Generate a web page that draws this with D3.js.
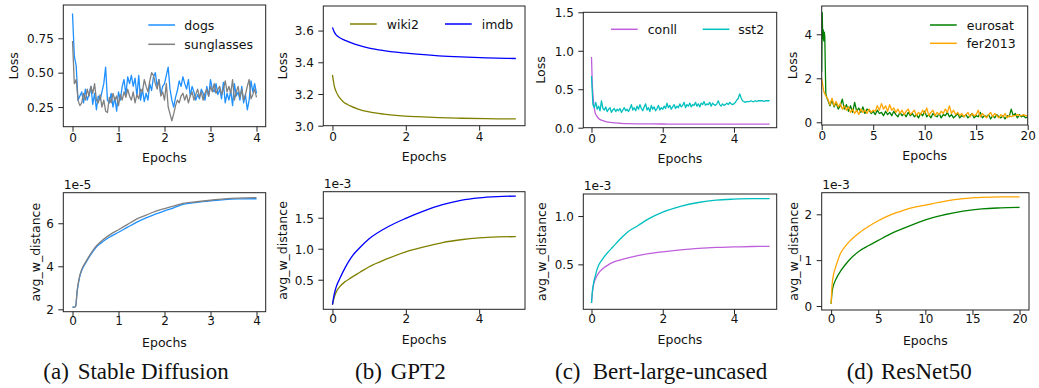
<!DOCTYPE html>
<html><head><meta charset="utf-8">
<script src="https://cdn.jsdelivr.net/npm/d3@7"></script>
<style>
body{margin:0;background:#fff}
svg{display:block}
text{font-family:"DejaVu Sans",sans-serif;fill:#111}
text.cap{font-family:"Liberation Serif","Times New Roman",serif}
</style>
</head><body>
<svg id="c" width="1039" height="388"></svg>
<script>
// ---------------- DATA ----------------
// (a) Stable Diffusion – loss, sampled every 0.04 epoch
const sdStep = 0.04;
const dogsLoss = [0.93,0.62,0.55,0.30,0.33,0.36,0.28,0.38,0.30,0.34,
0.40,0.27,0.35,0.23,0.33,0.30,0.36,0.42,0.54,0.30,
0.28,0.35,0.25,0.32,0.22,0.36,0.30,0.40,0.45,0.34,
0.47,0.42,0.48,0.40,0.46,0.33,0.48,0.30,0.38,0.29,
0.35,0.30,0.42,0.37,0.47,0.50,0.40,0.45,0.34,0.40,
0.42,0.48,0.54,0.38,0.30,0.25,0.32,0.37,0.44,0.40,
0.47,0.42,0.38,0.45,0.33,0.40,0.36,0.30,0.34,0.31,
0.38,0.35,0.30,0.40,0.33,0.45,0.38,0.36,0.42,0.34,
0.38,0.31,0.43,0.28,0.35,0.30,0.37,0.26,0.42,0.33,
0.36,0.30,0.40,0.28,0.34,0.23,0.30,0.44,0.36,0.42,0.35];
const sunglassesLoss = [0.73,0.42,0.45,0.30,0.26,0.28,0.35,0.30,0.38,0.33,
0.40,0.35,0.42,0.30,0.28,0.34,0.25,0.30,0.22,0.21,
0.32,0.28,0.35,0.30,0.33,0.26,0.34,0.30,0.36,0.32,
0.38,0.33,0.30,0.36,0.28,0.34,0.31,0.38,0.36,0.45,
0.40,0.36,0.44,0.50,0.48,0.42,0.38,0.45,0.33,0.36,
0.30,0.42,0.25,0.20,0.15,0.20,0.26,0.30,0.28,0.33,
0.35,0.30,0.34,0.28,0.33,0.36,0.30,0.34,0.38,0.32,
0.36,0.30,0.35,0.38,0.33,0.40,0.36,0.42,0.35,0.38,
0.40,0.34,0.38,0.44,0.36,0.40,0.35,0.45,0.30,0.36,
0.40,0.32,0.38,0.30,0.34,0.40,0.45,0.31,0.34,0.38,0.32];
// (a) avg_w_distance (x1e-5)
const sdDistEpochs = [0,0.05,0.07,0.1,0.15,0.2,0.3,0.4,0.5,0.6,0.8,1.0,1.2,1.4,1.6,1.8,2.0,2.2,2.4,2.7,3.0,3.3,3.6,4.0];
const dogsDist = [2.1,2.1,2.15,2.8,3.45,3.8,4.2,4.55,4.85,5.05,5.35,5.58,5.82,6.05,6.25,6.42,6.58,6.72,6.88,6.97,7.04,7.1,7.13,7.14];
const sunglassesDist = [2.1,2.1,2.15,2.85,3.5,3.85,4.25,4.6,4.9,5.12,5.45,5.7,5.95,6.2,6.38,6.55,6.68,6.8,6.92,7.0,7.07,7.13,7.17,7.19];

// (b) GPT2
const gptLossEpochs = [0,0.05,0.1,0.2,0.3,0.4,0.5,0.7,1.0,1.4,1.8,2.3,2.9,3.5,4.2,5.0];
const wiki2Loss = [3.32,3.25,3.215,3.175,3.15,3.135,3.123,3.105,3.087,3.073,3.064,3.057,3.051,3.047,3.044,3.043];
const imdbLoss = [3.62,3.59,3.573,3.555,3.543,3.533,3.524,3.508,3.49,3.474,3.462,3.451,3.441,3.434,3.428,3.424];
const gptDistEpochs = [0,0.05,0.1,0.2,0.35,0.5,0.75,1,1.5,2,2.5,3,3.5,4,4.5,5];
const wiki2Dist = [0.1,0.22,0.3,0.39,0.47,0.53,0.62,0.71,0.84,0.95,1.03,1.1,1.145,1.175,1.19,1.195]; // x1e-3
const imdbDist = [0.1,0.27,0.38,0.52,0.7,0.85,1.02,1.16,1.35,1.49,1.61,1.71,1.78,1.82,1.84,1.85];  // x1e-3

// (c) Bert-large-uncased
const conllLossEpochs = [0,0.02,0.05,0.08,0.1,0.15,0.2,0.3,0.4,0.6,0.8,1,1.5,2,3,4,5];
const conllLoss = [0.92,0.6,0.38,0.25,0.2,0.15,0.12,0.095,0.08,0.065,0.058,0.053,0.05,0.048,0.047,0.046,0.046];
const sst2Step = 0.04;
const sst2Loss = [0.67,0.30,0.26,0.33,0.24,0.28,0.22,0.35,0.25,0.23,
0.27,0.21,0.24,0.26,0.20,0.23,0.25,0.21,0.24,0.22,
0.25,0.20,0.23,0.26,0.22,0.24,0.21,0.25,0.30,0.23,
0.26,0.22,0.28,0.24,0.30,0.25,0.22,0.27,0.31,0.23,
0.26,0.21,0.29,0.24,0.27,0.22,0.25,0.29,0.23,0.26,
0.24,0.28,0.25,0.32,0.26,0.29,0.24,0.27,0.30,0.25,
0.28,0.26,0.31,0.27,0.29,0.33,0.26,0.30,0.28,0.32,
0.27,0.30,0.29,0.33,0.28,0.31,0.27,0.32,0.30,0.34,
0.29,0.31,0.30,0.33,0.28,0.32,0.30,0.29,0.31,0.35,
0.30,0.28,0.31,0.29,0.30,0.32,0.30,0.33,0.31,0.30,
0.31,0.33,0.36,0.38,0.44,0.39,0.35,0.34,0.33,0.34,
0.34,0.34,0.35,0.34,0.34,0.35,0.34,0.35,0.35,0.35,
0.35,0.34,0.35,0.35,0.35,0.35];
const bertDistEpochs = [0,0.03,0.06,0.1,0.15,0.2,0.3,0.45,0.6,0.8,1.0,1.3,1.6,2.0,2.5,3.0,3.5,4.0,4.5,5.0];
const conllDist = [0.1,0.22,0.29,0.34,0.38,0.41,0.45,0.49,0.52,0.545,0.565,0.59,0.61,0.63,0.65,0.665,0.675,0.68,0.685,0.687]; // x1e-3
const sst2Dist = [0.1,0.24,0.31,0.37,0.44,0.49,0.55,0.62,0.68,0.76,0.83,0.9,0.97,1.04,1.1,1.14,1.165,1.175,1.18,1.18];     // x1e-3

// (d) ResNet50
const eurosatHeadEpochs = [0,0.05,0.1,0.15,0.2,0.25,0.3,0.35,0.4,0.5];
const eurosatHeadLoss = [2.3,4.98,3.8,4.2,3.7,4.1,3.9,2.5,1.3,1.1];
const resStep = 0.2;
const eurosatTailStart = 0.6;
const eurosatTailLoss = [1.0,0.75,1.0,0.7,0.9,0.6,0.75,1.05,0.6,0.8,
0.5,0.75,0.45,0.9,0.5,0.65,0.45,0.7,0.4,0.6,
0.55,0.4,0.5,0.35,0.55,0.4,0.45,0.3,0.5,0.35,
0.45,0.3,0.5,0.35,0.25,0.45,0.3,0.4,0.25,0.45,
0.3,0.4,0.25,0.35,0.2,0.4,0.3,0.5,0.25,0.35,
0.2,0.4,0.3,0.25,0.4,0.2,0.35,0.3,0.45,0.25,
0.35,0.2,0.3,0.4,0.2,0.3,0.25,0.35,0.2,0.3,
0.4,0.2,0.3,0.25,0.45,0.2,0.3,0.25,0.35,0.15,
0.3,0.2,0.35,0.25,0.2,0.3,0.15,0.3,0.25,0.6,
0.3,0.4,0.2,0.35,0.25,0.3,0.2,0.25];
const fer2013Loss = [2.0,1.4,1.2,1.05,0.8,1.1,0.75,0.95,0.7,0.85,
0.6,0.75,0.55,0.7,0.45,0.6,0.4,0.55,0.35,0.6,
0.45,0.55,0.4,0.6,0.45,0.55,0.5,0.75,0.55,0.85,
0.6,0.75,0.5,0.8,0.55,0.65,0.45,0.6,0.4,0.55,
0.35,0.5,0.6,0.35,0.45,0.55,0.3,0.45,0.35,0.55,
0.4,0.65,0.3,0.45,0.55,0.3,0.45,0.35,0.5,0.4,
0.6,0.45,0.75,0.4,0.55,0.35,0.45,0.3,0.4,0.25,
0.35,0.45,0.25,0.4,0.3,0.35,0.55,0.25,0.4,0.3,
0.2,0.35,0.45,0.25,0.4,0.3,0.2,0.35,0.25,0.4,
0.2,0.3,0.25,0.3,0.3,0.35,0.3,0.3,0.35,0.3,0.3];
const resDistEpochs = [0,0.1,0.25,0.5,1,1.5,2,3,4,5,6,7,8,9,10,12,14,16,18,20];
const fer2013Dist = [0.05,0.45,0.68,0.86,1.15,1.3,1.42,1.6,1.74,1.86,1.96,2.04,2.11,2.16,2.2,2.28,2.34,2.37,2.38,2.38]; // x1e-3
const eurosatDist = [0.05,0.3,0.45,0.58,0.76,0.9,1.02,1.2,1.32,1.43,1.54,1.64,1.72,1.8,1.88,1.99,2.07,2.12,2.14,2.15];   // x1e-3

// tick labels
const ticks4 = [0,1,2,3,4], ticks5 = [0,2,4], ticks20 = [0,5,10,15,20];
const captionTags = ["(a)","(b)","(c)","(d)"];
const captionNames = ["Stable Diffusion","GPT2","Bert-large-uncased","ResNet50"];

// ---------------- DRAW ----------------
const C = {dogs:"#1e90ff", sunglasses:"#808080", wiki2:"#808000", imdb:"#0000ff",
           conll:"#bf5fdb", sst2:"#00bfbf", eurosat:"#008000", fer2013:"#ffa500"};
const byStep = (arr, step, start=0) => arr.map((v,i)=>[start+i*step, v]);
const zip = (xs, ys) => xs.map((x,i)=>[x, ys[i]]);

const svg = d3.select("#c");
const defs = svg.append("defs");
const f1 = d => d3.format(".1f")(d), f2 = d => d3.format(".2f")(d), f0 = d => d3.format("d")(d);

const panels = [
 {box:[63.3,5,265.7,126.7], xd:[-0.2,4.2], yd:[0.107,0.992], xt:ticks4, yt:[0.25,0.5,0.75], yf:f2, xf:f0, row:0, yl:"Loss", ylo:45,
  series:[{d:byStep(dogsLoss,sdStep),c:C.dogs,n:"dogs"},{d:byStep(sunglassesLoss,sdStep),c:C.sunglasses,n:"sunglasses"}],
  legend:{type:"v", hx:148.3, tx:184.3, ys:[25,44.3]}},
 {box:[323.3,6,525,125.7], xd:[-0.25,5.25], yd:[3.0,3.755], xt:ticks5, yt:[3.0,3.2,3.4,3.6], yf:f1, xf:f0, row:0, yl:"Loss", ylo:36.6, smooth:true,
  series:[{d:zip(gptLossEpochs,wiki2Loss),c:C.wiki2,n:"wiki2"},{d:zip(gptLossEpochs,imdbLoss),c:C.imdb,n:"imdb"}],
  legend:{type:"h", items:[[350,386.7],[445,481.7]], y:24}},
 {box:[583.3,12.3,776.7,127.7], xd:[-0.23,5.2], yd:[0,1.5], xt:ticks5, yt:[0,0.5,1.0,1.5], yf:f1, xf:f0, row:0, yl:"Loss", ylo:38.3,
  series:[{d:zip(conllLossEpochs,conllLoss),c:C.conll,n:"conll",smooth:true},{d:byStep(sst2Loss,sst2Step),c:C.sst2,n:"sst2"}],
  legend:{type:"h", items:[[611,647.7],[702.7,738.3]], y:29.3}},
 {box:[821.7,6,1027.7,125], xd:[0,20], yd:[-0.123,5.286], xt:ticks20, yt:[0,2,4], yf:f0, xf:f0, row:0, yl:"Loss", ylo:25,
  series:[{d:zip(eurosatHeadEpochs,eurosatHeadLoss).concat(byStep(eurosatTailLoss,resStep,eurosatTailStart)),c:C.eurosat,n:"eurosat"},
          {d:byStep(fer2013Loss,resStep),c:C.fer2013,n:"fer2013"}],
  legend:{type:"v", hx:930, tx:966.7, ys:[25,43.3]}},

 {box:[63.3,192.7,265.7,311.7], xd:[-0.2,4.2], yd:[1.89,7.42], xt:ticks4, yt:[2,4,6], yf:f0, xf:f0, row:1, yl:"avg_w_distance", ylo:23.3, exp:"1e-5", smooth:true,
  series:[{d:zip(sdDistEpochs,dogsDist),c:C.dogs},{d:zip(sdDistEpochs,sunglassesDist),c:C.sunglasses}]},
 {box:[323.3,191.7,525,309.3], xd:[-0.25,5.25], yd:[0.023,1.92], xt:ticks5, yt:[0.5,1.0,1.5], yf:f1, xf:f0, row:1, yl:"avg_w_distance", ylo:36.8, exp:"1e-3", smooth:true,
  series:[{d:zip(gptDistEpochs,wiki2Dist),c:C.wiki2},{d:zip(gptDistEpochs,imdbDist),c:C.imdb}]},
 {box:[583.3,194,776.7,309.3], xd:[-0.23,5.2], yd:[0.035,1.228], xt:ticks5, yt:[0.5,1.0], yf:f1, xf:f0, row:1, yl:"avg_w_distance", ylo:37.3, exp:"1e-3", smooth:true,
  series:[{d:zip(bertDistEpochs,conllDist),c:C.conll},{d:zip(bertDistEpochs,sst2Dist),c:C.sst2}]},
 {box:[821.7,192.7,1029,310], xd:[-1,21], yd:[-0.087,2.471], xt:ticks20, yt:[0,1,2], yf:f0, xf:f0, row:1, yl:"avg_w_distance", ylo:24.2, exp:"1e-3", smooth:true,
  series:[{d:zip(resDistEpochs,eurosatDist),c:C.eurosat},{d:zip(resDistEpochs,fer2013Dist),c:C.fer2013}]}
];

panels.forEach((p,k)=>{
  const [L,T,R,B] = p.box;
  const x = d3.scaleLinear().domain(p.xd).range([L,R]);
  const y = d3.scaleLinear().domain(p.yd).range([B,T]);
  const g = svg.append("g");
  const cid = "clip"+k;
  defs.append("clipPath").attr("id",cid).append("rect").attr("x",L).attr("y",T).attr("width",R-L).attr("height",B-T);

  // lines
  p.series.forEach(s=>{
    const sm = s.smooth!==undefined ? s.smooth : p.smooth;
    const line = d3.line().x(d=>x(d[0])).y(d=>y(d[1])).curve(sm?d3.curveMonotoneX:d3.curveLinear);
    g.append("path").attr("d",line(s.d)).attr("fill","none").attr("stroke",s.c)
     .attr("stroke-width",1.3).attr("stroke-linejoin","round").attr("clip-path",`url(#${cid})`);
  });

  // axes
  const xa = g.append("g").attr("transform",`translate(0,${B})`)
    .call(d3.axisBottom(x).tickValues(p.xt).tickFormat(p.xf).tickSize(5).tickSizeOuter(0));
  xa.select(".domain").remove();
  xa.selectAll("line").attr("stroke","#222").attr("stroke-width",1);
  xa.selectAll("text").attr("y", p.row===0?15:13.3).attr("dy",null).style("font-size","12px").attr("fill","#111");

  const ya = g.append("g").attr("transform",`translate(${L},0)`)
    .call(d3.axisLeft(y).tickValues(p.yt).tickFormat(p.yf).tickSize(5).tickSizeOuter(0));
  ya.select(".domain").remove();
  ya.selectAll("line").attr("stroke","#222").attr("stroke-width",1);
  ya.selectAll("text").attr("x",-9.5).attr("dy","0.36em").style("font-size","12px").attr("fill","#111");

  // frame
  g.append("rect").attr("x",L).attr("y",T).attr("width",R-L).attr("height",B-T)
   .attr("fill","none").attr("stroke","#222").attr("stroke-width",1);

  // labels
  g.append("text").attr("x",(L+R)/2).attr("y",B+35).attr("text-anchor","middle")
   .style("font-size","12.5px").text("Epochs");
  g.append("text").attr("transform",`translate(${L-p.ylo},${(T+B)/2}) rotate(-90)`)
   .attr("text-anchor","middle").style("font-size","12.5px").text(p.yl);
  if(p.exp){
    g.append("text").attr("x",L+0.5).attr("y",T-4).style("font-size","12.3px").text(p.exp);
  }

  // legend
  if(p.legend){
    const lg = p.legend;
    p.series.forEach((s,i)=>{
      let hx, tx, yy;
      if(lg.type==="v"){ hx=lg.hx; tx=lg.tx; yy=lg.ys[i]; }
      else { hx=lg.items[i][0]; tx=lg.items[i][1]; yy=lg.y; }
      g.append("line").attr("x1",hx).attr("x2",hx+26.7).attr("y1",yy).attr("y2",yy)
       .attr("stroke",s.c).attr("stroke-width",1.5);
      g.append("text").attr("x",tx).attr("y",yy+4.6).style("font-size","12.5px").text(s.n);
    });
  }
});

// captions
const capTagX = [43.3,355,555,846.7];
const capNameX = [77.7,390.7,592.7,881];
captionTags.forEach((t,i)=>{
  svg.append("text").attr("class","cap").attr("x",capTagX[i]).attr("y",379).style("font-size","23px").text(t);
  svg.append("text").attr("class","cap").attr("x",capNameX[i]).attr("y",379).style("font-size","23px").text(captionNames[i]);
});
</script>
</body></html>
